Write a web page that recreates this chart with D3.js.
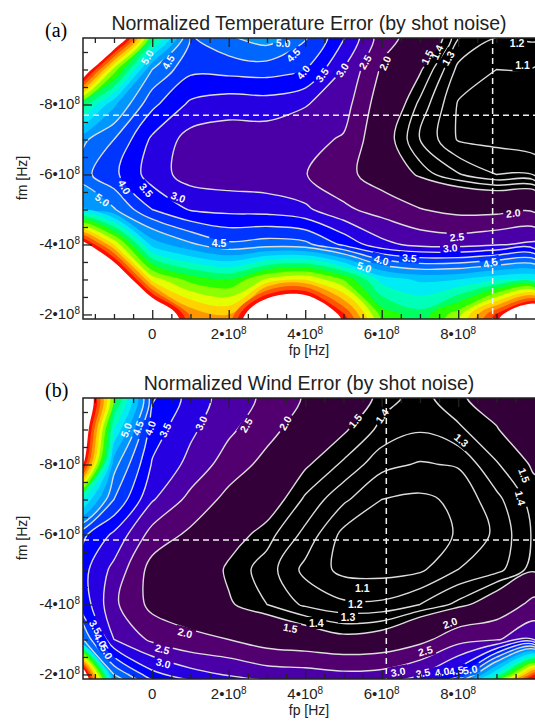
<!DOCTYPE html>
<html>
<head>
<meta charset="UTF-8">
<title>Normalized errors</title>
<script src="https://d3js.org/d3.v7.min.js"></script>
<style>
  body { margin: 0; background: #fff; }
  svg text { font-family: "Liberation Sans", Arial, sans-serif; }
</style>
</head>
<body>
<svg id="chart" width="535" height="722"></svg>
<script>

// sample grid, fp and fm in units of 1e8 Hz
var gridX = [-2, -1, 0, 1, 2, 3, 4, 5, 6, 7, 8, 9, 10];
var gridY = [-10, -9, -8, -7, -6, -5, -4, -3, -2, -1];

// normalized temperature error, one row per fm value
var tempError = [
  [13, 13, 7.6, 4.45, 5.0, 5.35, 4.6, 3.6, 2.2, 1.78, 1.32, 1.21, 1.23],
  [12.9, 8.3, 5.0, 4.12, 4.18, 4.22, 4.03, 2.98, 1.93, 1.52, 1.17, 1.1, 1.09],
  [7.6, 5.6, 4.12, 3.4, 3.2, 3.25, 3.03, 2.72, 1.7, 1.37, 1.09, 1.05, 1.02],
  [5.25, 4.5, 3.4, 2.8, 2.75, 2.72, 2.65, 2.45, 1.6, 1.3, 1.09, 1.07, 1.04],
  [4.78, 4.12, 3.25, 2.78, 2.7, 2.65, 2.52, 2.15, 1.75, 1.46, 1.31, 1.2, 1.18],
  [5.7, 5.05, 4.0, 3.45, 3.35, 3.3, 3.1, 2.6, 2.3, 2.02, 1.85, 1.85, 1.9],
  [12, 9.0, 5.8, 5.1, 4.6, 4.75, 4.65, 3.9, 3.15, 2.85, 2.8, 2.95, 3.1],
  [14, 13, 8.8, 7.8, 7.5, 8.6, 9.0, 8.0, 6.3, 5.9, 6.0, 6.4, 6.5],
  [14, 14, 13, 9.9, 9.5, 13, 13.5, 10.6, 7.8, 7.2, 8.3, 10.6, 13],
  [14, 14, 14, 10.5, 9.8, 14, 14, 12, 8.5, 7.5, 9.0, 12, 14]
];

// normalized wind error
var windError = [
  [13.6, 7.8, 4.1, 3.3, 2.75, 2.4, 1.95, 1.67, 1.45, 1.36, 1.48, 1.58, 1.75],
  [13.3, 6.5, 3.75, 3.1, 2.6, 2.15, 1.75, 1.52, 1.37, 1.31, 1.38, 1.49, 1.64],
  [12.4, 5.2, 3.45, 2.85, 2.25, 1.85, 1.52, 1.38, 1.23, 1.19, 1.21, 1.39, 1.52],
  [7.0, 4.5, 3.05, 2.35, 1.85, 1.6, 1.38, 1.22, 1.1, 1.08, 1.12, 1.27, 1.45],
  [4.27, 3.4, 2.3, 1.9, 1.58, 1.44, 1.27, 1.07, 1.03, 1.04, 1.11, 1.22, 1.42],
  [3.85, 2.85, 1.8, 1.68, 1.47, 1.35, 1.17, 1.07, 1.06, 1.08, 1.2, 1.26, 1.45],
  [4.1, 2.6, 1.85, 1.75, 1.52, 1.4, 1.28, 1.22, 1.22, 1.3, 1.43, 1.65, 2.15],
  [5.5, 3.0, 2.4, 2.1, 2.0, 1.75, 1.65, 1.55, 1.6, 1.85, 2.3, 2.45, 2.9],
  [13.5, 5.0, 3.65, 3.2, 2.95, 2.75, 2.7, 2.6, 2.65, 2.95, 3.8, 6.5, 10.5],
  [14, 7.0, 6.0, 5.0, 4.5, 4.2, 4.0, 3.8, 4.0, 5.0, 9.0, 14, 14]
];

var lineLevels = [1.1, 1.2, 1.3, 1.4, 1.5, 2.0, 2.5, 3.0, 3.5, 4.0, 4.5, 5.0];
var fillLevels = [1.1, 1.2, 1.3, 1.4, 1.5, 2.0, 2.5, 3.0, 3.5, 4.0, 4.5, 5.0,
                  5.5, 6.0, 6.5, 7.0, 7.5, 8.0, 8.5, 9.0, 9.5, 10.0, 10.5, 11.0];
var fillColors = ["#000000", "#000000", "#000000", "#000000", "#330039", "#52006f",
                  "#4a00a6", "#2600e0", "#0000ff", "#0034ff", "#0068ff", "#0098ff",
                  "#00c4ff", "#00ecf4", "#00ffb8", "#00ff62", "#28ff00", "#8cff00",
                  "#e4ff00", "#ffd200", "#ff9600", "#ff5400", "#ff0e00", "#ffffff"];

var xTicks = [0, 2, 4, 6, 8];
var yTicks = [-8, -6, -4, -2];

// dashed cross-hair (fp, fm)
var tempMarker = [8.9, -7.69];
var windMarker = [6.12, -5.84];

// contour labels: text, fp, fm, angle
var tempLabels = [
  ["5.0", -0.13, -9.35, -60], ["4.5", 0.42, -9.21, -60], ["5.0", 3.42, -9.75, 5],
  ["4.5", 3.69, -9.41, -45], ["4.0", 3.95, -8.92, -50], ["3.5", 4.44, -8.84, -55],
  ["3.0", 4.97, -8.98, -58], ["2.5", 5.57, -9.21, -60], ["2.0", 6.09, -9.18, -65],
  ["1.5", 7.19, -9.35, -65], ["1.4", 7.45, -9.49, -65], ["1.3", 7.74, -9.32, -60],
  ["1.2", 9.54, -9.75, 0], ["1.1", 9.68, -9.12, 0],
  ["4.0", -0.73, -5.64, 60], ["3.5", -0.16, -5.55, 50], ["3.0", 0.68, -5.35, 20],
  ["5.0", -1.31, -5.27, 35], ["4.5", 1.75, -4.04, 0],
  ["2.0", 9.44, -4.89, -5], ["2.5", 7.97, -4.21, -5], ["3.0", 7.79, -3.89, -5],
  ["4.0", 5.99, -3.55, 15], ["3.5", 6.72, -3.61, 5], ["5.0", 5.54, -3.35, 20],
  ["4.5", 8.84, -3.47, -15]
];
var windLabels = [
  ["5.0", -0.68, -8.98, -70], ["4.5", -0.37, -9.04, -70], ["4.0", -0.05, -9.04, -70],
  ["3.5", 0.34, -8.98, -65], ["3.0", 1.28, -9.18, -65], ["2.5", 2.46, -9.12, -60],
  ["2.0", 3.48, -9.18, -60], ["1.5", 5.31, -9.24, -50], ["1.4", 6.01, -9.38, -55],
  ["1.3", 8.08, -8.69, 40], ["1.5", 9.72, -7.69, 70], ["1.4", 9.62, -7.04, 75],
  ["1.1", 5.49, -4.47, 0], ["1.2", 5.31, -4.01, 0], ["1.3", 5.12, -3.64, 0],
  ["1.4", 4.29, -3.47, 0], ["1.5", 3.61, -3.32, 10],
  ["2.0", 0.86, -3.18, 15], ["2.5", 0.26, -2.72, 15], ["3.0", 0.29, -2.32, 15],
  ["2.0", 7.79, -3.47, -20], ["2.5", 7.14, -2.67, -15], ["3.0", 6.43, -2.07, -10],
  ["3.5", 7.08, -2.04, -10], ["4.0", 7.58, -2.07, -10], ["4.5", 7.95, -2.10, -10],
  ["5.0", 8.31, -2.13, -10],
  ["3.5", -1.49, -3.35, 60], ["4.0", -1.36, -2.98, 60], ["5.0", -1.20, -2.64, 60]
];

var svg = d3.select("#chart");
var x = d3.scaleLinear().domain([-1.81, 10.06]).range([83, 537]);
var plotH = 281;
var ink = "#222";

var panels = [
  { values: tempError, labels: tempLabels, marker: tempMarker, top: 38, tag: "(a)",
    title: "Normalized Temperature Error (by shot noise)" },
  { values: windError, labels: windLabels, marker: windMarker, top: 398, tag: "(b)",
    title: "Normalized Wind Error (by shot noise)" }
];

var smooth = d3.line().curve(d3.curveCatmullRomClosed.alpha(0.5));

var xMinor = d3.range(-1.5, 9.6, 0.5).filter(function(v) { return xTicks.indexOf(v) < 0; });
var yMinor = d3.range(-9.5, -1.9, 0.5).filter(function(v) { return yTicks.indexOf(v) < 0; });

function powLabel(sel) {
  sel.each(function(v) {
    var t = d3.select(this);
    if (v === 0) { t.text("0"); return; }
    t.text(v + "\u202210");
    t.append("tspan").attr("dy", "-0.5em").attr("font-size", "10px").text("8");
  });
}

panels.forEach(function(p, k) {
  var bottom = p.top + plotH;
  var y = d3.scaleLinear().domain([-9.9, -1.87]).range([p.top, bottom]);

  function shape(mp) {
    var d = "";
    mp.coordinates.forEach(function(poly) {
      poly.forEach(function(ring) {
        var pts = ring.slice(0, -1).map(function(c) {
          return [x(gridX[0] + c[0] - 0.5), y(gridY[0] + c[1] - 0.5)];
        });
        if (pts.length > 2) d += smooth(pts);
      });
    });
    return d;
  }

  var contours = d3.contours()
    .size([gridX.length, gridY.length])
    .thresholds(fillLevels)(p.values.flat());

  svg.append("clipPath").attr("id", "clip" + k)
    .append("rect").attr("x", 83).attr("y", p.top).attr("width", 454).attr("height", plotH);

  // holes in the contour lines behind the labels
  var mask = svg.append("mask").attr("id", "gap" + k)
    .attr("maskUnits", "userSpaceOnUse")
    .attr("x", 0).attr("y", 0).attr("width", 535).attr("height", 722);
  mask.append("rect").attr("width", 535).attr("height", 722).attr("fill", "#fff");
  mask.selectAll("rect.gap").data(p.labels).enter().append("rect")
    .attr("class", "gap")
    .attr("transform", function(d) { return "translate(" + x(d[1]) + "," + y(d[2]) + ") rotate(" + d[3] + ")"; })
    .attr("x", -10).attr("y", -6).attr("width", 20).attr("height", 12)
    .attr("fill", "#000");

  var plot = svg.append("g").attr("clip-path", "url(#clip" + k + ")");
  plot.append("rect")
    .attr("x", 83).attr("y", p.top).attr("width", 454).attr("height", plotH)
    .attr("fill", "#000");

  plot.selectAll("path.band").data(contours).enter().append("path")
    .attr("class", "band")
    .attr("d", shape)
    .attr("fill", function(d, i) { return fillColors[i]; })
    .attr("fill-rule", "evenodd");

  plot.append("g").attr("mask", "url(#gap" + k + ")")
    .selectAll("path")
    .data(contours.filter(function(c) { return lineLevels.indexOf(c.value) >= 0; }))
    .enter().append("path")
    .attr("d", shape)
    .attr("fill", "none")
    .attr("stroke", "#dcdcdc")
    .attr("stroke-width", 1.4);

  plot.selectAll("text.clabel").data(p.labels).enter().append("text")
    .attr("class", "clabel")
    .attr("transform", function(d) { return "translate(" + x(d[1]) + "," + y(d[2]) + ") rotate(" + d[3] + ")"; })
    .attr("text-anchor", "middle")
    .attr("dy", "0.35em")
    .attr("font-size", "10.5px")
    .attr("font-weight", "bold")
    .attr("fill", "#fafafa")
    .text(function(d) { return d[0]; });

  // dashed cross-hair
  plot.append("line")
    .attr("x1", 83).attr("x2", 537)
    .attr("y1", y(p.marker[1])).attr("y2", y(p.marker[1]));
  plot.append("line")
    .attr("x1", x(p.marker[0])).attr("x2", x(p.marker[0]))
    .attr("y1", p.top).attr("y2", bottom);
  plot.selectAll("line")
    .attr("stroke", "#f2f2f2").attr("stroke-width", 1.5).attr("stroke-dasharray", "6,4");

  // ticks, all pointing into the plot
  var ax = svg.append("g");
  function tickRow(axis, tr, vals, size) {
    ax.append("g").attr("transform", tr)
      .call(axis.tickValues(vals).tickSize(size).tickSizeOuter(0).tickFormat(""))
      .call(function(g) {
        g.select(".domain").remove();
        g.selectAll("line").attr("stroke", ink).attr("stroke-width", 1.3);
      });
  }
  tickRow(d3.axisBottom(x), "translate(0," + bottom + ")", xTicks, -9);
  tickRow(d3.axisBottom(x), "translate(0," + bottom + ")", xMinor, -5);
  tickRow(d3.axisTop(x), "translate(0," + p.top + ")", xTicks, -9);
  tickRow(d3.axisTop(x), "translate(0," + p.top + ")", xMinor, -5);
  tickRow(d3.axisLeft(y), "translate(83,0)", yTicks, -9);
  tickRow(d3.axisLeft(y), "translate(83,0)", yMinor, -5);

  ax.append("rect")
    .attr("x", 83).attr("y", p.top).attr("width", 454).attr("height", plotH)
    .attr("fill", "none").attr("stroke", ink).attr("stroke-width", 1.5);

  ax.selectAll("text.xt").data(xTicks).enter().append("text")
    .attr("class", "xt")
    .attr("x", function(d) { return x(d); })
    .attr("y", bottom + 20)
    .attr("text-anchor", "middle")
    .attr("font-size", "15px")
    .attr("fill", ink)
    .call(powLabel);

  ax.selectAll("text.yt").data(yTicks).enter().append("text")
    .attr("class", "yt")
    .attr("x", 80)
    .attr("y", function(d) { return y(d) + 5; })
    .attr("text-anchor", "end")
    .attr("font-size", "15px")
    .attr("fill", ink)
    .call(powLabel);

  ax.append("text")
    .attr("x", 309).attr("y", bottom + 36)
    .attr("text-anchor", "middle")
    .attr("font-size", "14px")
    .attr("fill", ink)
    .text("fp [Hz]");

  ax.append("text")
    .attr("transform", "translate(27," + (p.top + 140) + ") rotate(-90)")
    .attr("text-anchor", "middle")
    .attr("font-size", "14px")
    .attr("fill", ink)
    .text("fm [Hz]");

  ax.append("text")
    .attr("x", 309).attr("y", p.top - 8)
    .attr("text-anchor", "middle")
    .attr("font-size", "19.5px")
    .attr("fill", ink)
    .text(p.title);

  ax.append("text")
    .attr("x", 45).attr("y", p.top - 1)
    .style("font-family", "'Liberation Serif', 'Times New Roman', serif")
    .attr("font-size", "20px")
    .attr("fill", "#000")
    .text(p.tag);
});

</script>
</body>
</html>
